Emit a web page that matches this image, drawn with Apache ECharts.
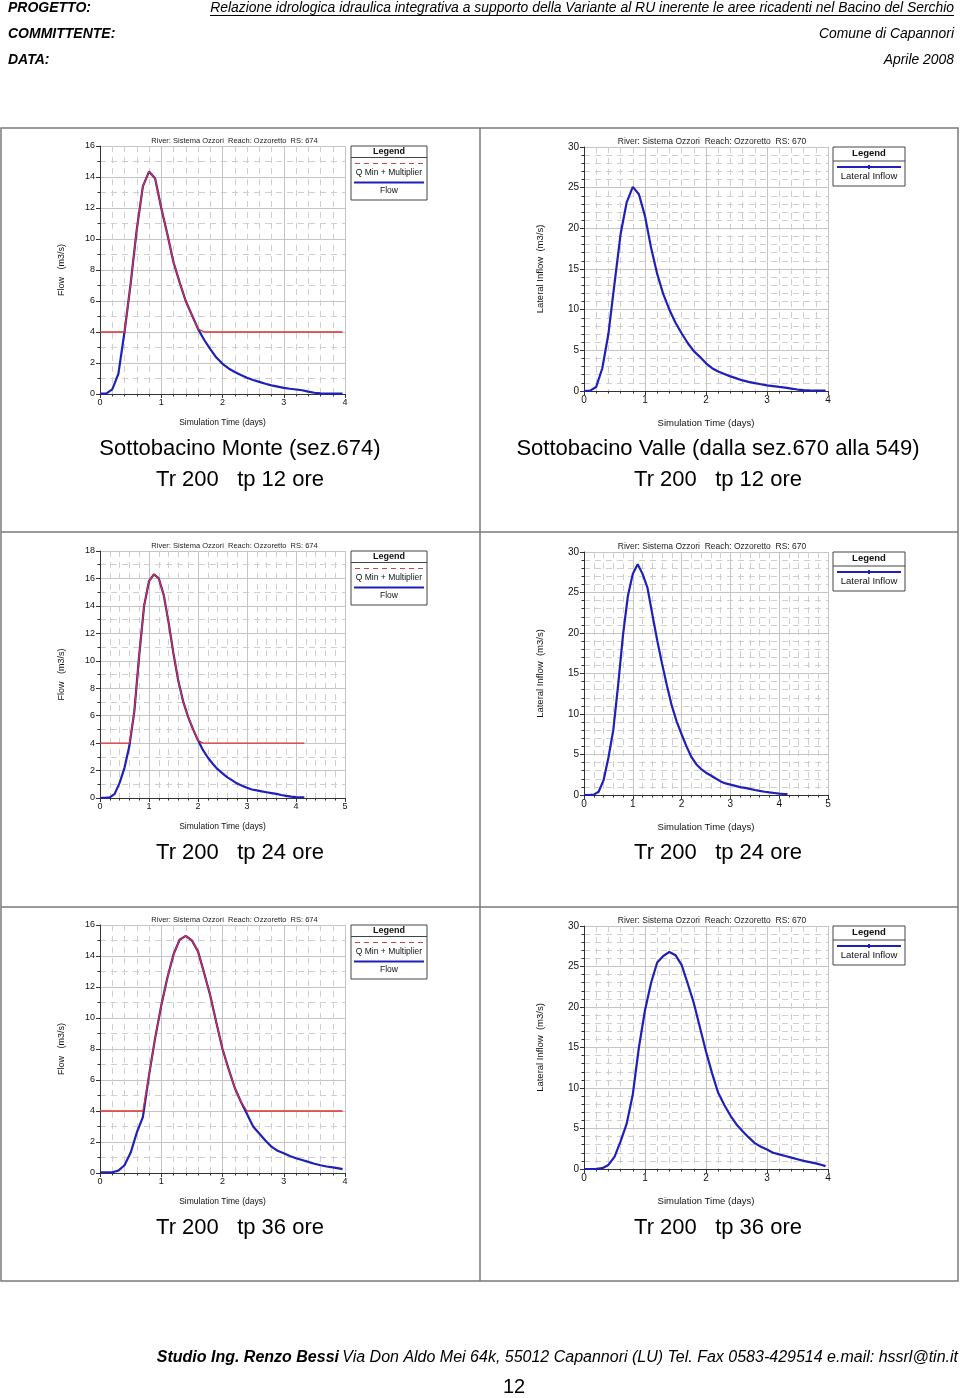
<!DOCTYPE html>
<html><head><meta charset="utf-8">
<script src="https://cdn.jsdelivr.net/npm/echarts@6/dist/echarts.min.js"></script>
<style>html,body{margin:0;padding:0;background:#fff}#c{width:960px;height:1398px}</style>
</head><body><div id="c"></div>
<script>
// ---------- DATA ----------
const timeTp12 = [0,0.1,0.2,0.3,0.4,0.5,0.6,0.7,0.8,0.9,1.0,1.1,1.2,1.3,1.4,1.5,1.6,1.7,1.8,1.9,2.0,2.1,2.2,2.3,2.4,2.5,2.6,2.7,2.8,2.9,3.0,3.1,3.2,3.3,3.4,3.5,3.6,3.7,3.8,3.9,3.96];
const timeTp24 = [0,0.1,0.2,0.3,0.4,0.5,0.6,0.7,0.8,0.9,1.0,1.1,1.2,1.3,1.4,1.5,1.6,1.7,1.8,1.9,2.0,2.1,2.2,2.3,2.4,2.5,2.6,2.7,2.8,2.9,3.0,3.1,3.2,3.3,3.4,3.5,3.6,3.7,3.8,3.9,4.0,4.1,4.17];
const timeTp36 = [0,0.1,0.2,0.3,0.4,0.5,0.6,0.7,0.8,0.9,1.0,1.1,1.2,1.3,1.4,1.5,1.6,1.7,1.8,1.9,2.0,2.1,2.2,2.3,2.4,2.5,2.6,2.7,2.8,2.9,3.0,3.1,3.2,3.3,3.4,3.5,3.6,3.7,3.8,3.9,3.96];

// Sottobacino Monte (RS 674) - Flow
const flowMonteTp12 = [0.02,0.03,0.3,1.3,4.0,7.1,10.6,13.4,14.35,13.9,12.0,10.3,8.5,7.2,6.0,5.1,4.2,3.5,2.9,2.35,1.95,1.65,1.42,1.22,1.05,0.9,0.78,0.66,0.56,0.48,0.4,0.34,0.29,0.24,0.15,0.08,0.04,0.03,0.03,0.02,0.02];
const qminMonteTp12 = [4,4,4,4,4.0,7.1,10.6,13.4,14.35,13.9,12.0,10.3,8.5,7.2,6.0,5.1,4.2,4,4,4,4,4,4,4,4,4,4,4,4,4,4,4,4,4,4,4,4,4,4,4,4];
const flowMonteTp24 = [0.02,0.02,0.05,0.3,1.1,2.2,3.8,6.3,10.4,14.0,15.8,16.3,16.0,14.8,12.8,10.5,8.5,7.0,5.9,5.0,4.2,3.5,2.95,2.5,2.1,1.8,1.5,1.28,1.05,0.9,0.75,0.62,0.55,0.48,0.42,0.36,0.3,0.22,0.15,0.1,0.07,0.05,0.05];
const qminMonteTp24 = [4,4,4,4,4,4,4,6.3,10.4,14.0,15.8,16.3,16.0,14.8,12.8,10.5,8.5,7.0,5.9,5.0,4.2,4,4,4,4,4,4,4,4,4,4,4,4,4,4,4,4,4,4,4,4,4,4];
const flowMonteTp36 = [0.05,0.05,0.05,0.15,0.5,1.3,2.6,3.6,6.3,8.7,10.8,12.6,14.1,15.05,15.3,15.0,14.3,12.9,11.45,9.7,8.0,6.7,5.5,4.6,3.8,3.0,2.55,2.1,1.7,1.43,1.27,1.1,0.95,0.84,0.72,0.6,0.5,0.42,0.36,0.3,0.25];
const qminMonteTp36 = [4,4,4,4,4,4,4,4,6.3,8.7,10.8,12.6,14.1,15.05,15.3,15.0,14.3,12.9,11.45,9.7,8.0,6.7,5.5,4.6,4,4,4,4,4,4,4,4,4,4,4,4,4,4,4,4,4];

// Sottobacino Valle (RS 670) - Lateral Inflow
const inflowValleTp12 = [0,0.05,0.5,2.8,7.0,13.2,19.3,23.2,25.1,24.2,21.5,17.6,14.4,11.9,10.0,8.4,7.1,5.9,4.9,4.2,3.4,2.8,2.4,2.1,1.8,1.55,1.3,1.12,0.97,0.83,0.7,0.6,0.5,0.42,0.3,0.18,0.1,0.07,0.06,0.05,0.05];
const inflowValleTp24 = [0,0,0.05,0.4,1.8,4.6,8.0,13.6,19.8,24.6,27.3,28.5,27.3,25.6,22.3,19.1,16.2,13.5,11.0,9.05,7.5,6.0,4.7,3.8,3.2,2.75,2.4,2.03,1.68,1.43,1.28,1.13,0.98,0.87,0.75,0.62,0.5,0.4,0.32,0.25,0.18,0.12,0.1];
const inflowValleTp36 = [0,0,0.02,0.1,0.5,1.5,3.4,5.6,9.2,15.0,19.6,23.0,25.5,26.3,26.8,26.4,25.2,22.9,20.5,17.5,14.5,11.8,9.4,7.9,6.6,5.5,4.65,3.9,3.2,2.75,2.4,2.0,1.8,1.6,1.4,1.2,1.0,0.85,0.7,0.5,0.35];

const chartTitleMonte = 'River: Sistema Ozzori  Reach: Ozzoretto  RS: 674';
const chartTitleValle = 'River: Sistema Ozzori  Reach: Ozzoretto  RS: 670';
const yNameMonte = 'Flow   (m3/s)';
const yNameValle = 'Lateral Inflow  (m3/s)';
const xName = 'Simulation Time (days)';
const captionMonte = 'Sottobacino Monte (sez.674)';
const captionValle = 'Sottobacino Valle (dalla sez.670 alla 549)';
const captionTp12 = 'Tr 200   tp 12 ore';
const captionTp24 = 'Tr 200   tp 24 ore';
const captionTp36 = 'Tr 200   tp 36 ore';

// ---------- LAYOUT ----------
const BLUE = '#2020b8', RED = '#dd3030';
const FONT = '"Liberation Sans", Arial, Helvetica, sans-serif';

const panels = [
  {type:'monte', grid:{left:100,top:146,width:245,height:248}, xMax:4, yMax:16, yInt:2, yMinor:2, time:timeTp12, main:flowMonteTp12, qmin:qminMonteTp12},
  {type:'valle', grid:{left:584,top:147,width:244,height:244}, xMax:4, yMax:30, yInt:5, yMinor:5, time:timeTp12, main:inflowValleTp12},
  {type:'monte', grid:{left:100,top:551,width:245,height:247}, xMax:5, yMax:18, yInt:2, yMinor:2, time:timeTp24, main:flowMonteTp24, qmin:qminMonteTp24},
  {type:'valle', grid:{left:584,top:552,width:244,height:243}, xMax:5, yMax:30, yInt:5, yMinor:5, time:timeTp24, main:inflowValleTp24},
  {type:'monte', grid:{left:100,top:925,width:245,height:248}, xMax:4, yMax:16, yInt:2, yMinor:2, time:timeTp36, main:flowMonteTp36, qmin:qminMonteTp36},
  {type:'valle', grid:{left:584,top:926,width:244,height:243}, xMax:4, yMax:30, yInt:5, yMinor:5, time:timeTp36, main:inflowValleTp36},
];

const grids = [], xAxes = [], yAxes = [], series = [], graphics = [];
const gridLineColor = '#c4c4c4';

panels.forEach((p, i) => {
  const isM = p.type === 'monte';
  const fs = isM ? 9 : 10;
  grids.push(Object.assign({outerBoundsMode:'none', containLabel:false}, p.grid));
  xAxes.push({
    type:'value', gridIndex:i, min:0, max:p.xMax, interval:1,
    name:xName, nameLocation:'middle', nameGap: isM ? 24 : 27,
    nameTextStyle:{fontSize: isM ? 8.5 : 9.5, color:'#111', fontFamily:FONT},
    axisLine:{show:true, onZero:false, lineStyle:{color:'#333', width:1}},
    axisTick:{show:true, length:4, lineStyle:{color:'#333'}},
    minorTick:{show:true, splitNumber:5, length:2.5, lineStyle:{color:'#333'}},
    axisLabel:{fontSize:fs, color:'#111', margin:4, fontFamily:FONT},
    splitLine:{show:true, lineStyle:{color:gridLineColor, width:1}},
    minorSplitLine:{show:true, lineStyle:{color:'#cfcfcf', width:1, type:[6,5]}}
  });
  yAxes.push({
    type:'value', gridIndex:i, min:0, max:p.yMax, interval:p.yInt,
    name: isM ? yNameMonte : yNameValle, nameLocation:'middle', nameGap: isM ? 34 : 39, nameRotate:90,
    nameTextStyle:{fontSize: isM ? 9 : 9.5, color:'#111', fontFamily:FONT},
    axisLine:{show:true, lineStyle:{color:'#333', width:1}},
    axisTick:{show:true, length:4, lineStyle:{color:'#333'}},
    minorTick:{show:true, splitNumber:p.yMinor, length:2.5, lineStyle:{color:'#333'}},
    axisLabel:{fontSize:fs, color:'#111', margin:5, fontFamily:FONT},
    splitLine:{show:true, lineStyle:{color:gridLineColor, width:1}},
    minorSplitLine:{show:true, lineStyle:{color:'#cfcfcf', width:1, type:[6,5]}}
  });
  series.push({
    type:'line', name: isM ? 'Flow' : 'Lateral Inflow', xAxisIndex:i, yAxisIndex:i,
    data: p.time.map((t, k) => [t, p.main[k]]),
    showSymbol:false, symbol:'none', lineStyle:{color:BLUE, width:2.2}, z:3, animation:false
  });
  if (isM) {
    series.push({
      type:'line', name:'Q Min + Multiplier', xAxisIndex:i, yAxisIndex:i,
      data: p.time.map((t, k) => [t, p.qmin[k]]),
      showSymbol:false, symbol:'none', lineStyle:{color:RED, width:1.3}, z:4, animation:false
    });
  }

  const g = p.grid;
  const cx = g.left + g.width / 2;
  graphics.push({type:'text', x: cx + (isM ? 12 : 6), y: g.top - 5, style:{text: isM ? chartTitleMonte : chartTitleValle, font:(isM ? '7.5px ' : '8.5px ') + FONT, fill:'#222', align:'center', verticalAlign:'middle'}});

  if (isM) {
    const lx = 351, ly = g.top, lw = 76, lh = 54, lc = lx + lw / 2;
    graphics.push(
      {type:'rect', shape:{x:lx, y:ly, width:lw, height:lh}, style:{fill:'#fff', stroke:'#444', lineWidth:1}},
      {type:'text', x:lc, y:ly + 5.5, style:{text:'Legend', font:'bold 9px ' + FONT, fill:'#111', align:'center', verticalAlign:'middle'}},
      {type:'line', shape:{x1:lx, y1:ly + 11.5, x2:lx + lw, y2:ly + 11.5}, style:{stroke:'#444', lineWidth:1}},
      {type:'line', shape:{x1:lx + 4, y1:ly + 17.5, x2:lx + lw - 3, y2:ly + 17.5}, style:{stroke:'#cc4444', lineWidth:1, lineDash:[5,4]}},
      {type:'text', x:lc, y:ly + 27, style:{text:'Q Min + Multiplier', font:'8.5px ' + FONT, fill:'#111', align:'center', verticalAlign:'middle'}},
      {type:'line', shape:{x1:lx + 3, y1:ly + 36.5, x2:lx + lw - 3, y2:ly + 36.5}, style:{stroke:BLUE, lineWidth:1.8}},
      {type:'text', x:lc, y:ly + 45, style:{text:'Flow', font:'8.5px ' + FONT, fill:'#111', align:'center', verticalAlign:'middle'}}
    );
  } else {
    const lx = 833, ly = g.top, lw = 72, lh = 39, lc = lx + lw / 2;
    graphics.push(
      {type:'rect', shape:{x:lx, y:ly, width:lw, height:lh}, style:{fill:'#fff', stroke:'#444', lineWidth:1}},
      {type:'text', x:lc, y:ly + 6.5, style:{text:'Legend', font:'bold 9.5px ' + FONT, fill:'#111', align:'center', verticalAlign:'middle'}},
      {type:'line', shape:{x1:lx, y1:ly + 14, x2:lx + lw, y2:ly + 14}, style:{stroke:'#444', lineWidth:1}},
      {type:'line', shape:{x1:lx + 4, y1:ly + 20, x2:lx + lw - 4, y2:ly + 20}, style:{stroke:BLUE, lineWidth:1.8}},
      {type:'rect', shape:{x:lc - 1, y:ly + 18, width:2, height:4}, style:{fill:BLUE}},
      {type:'text', x:lc, y:ly + 29.5, style:{text:'Lateral Inflow', font:'9.5px ' + FONT, fill:'#111', align:'center', verticalAlign:'middle'}}
    );
  }
});

// page table borders
const BORDER = '#7a7a7a';
graphics.push(
  {type:'rect', shape:{x:1, y:128, width:957, height:1153}, style:{fill:'none', stroke:BORDER, lineWidth:1.5}, z:-1},
  {type:'line', shape:{x1:480, y1:128, x2:480, y2:1281}, style:{stroke:BORDER, lineWidth:1.5}, z:-1},
  {type:'line', shape:{x1:1, y1:532, x2:958, y2:532}, style:{stroke:BORDER, lineWidth:1.5}, z:-1},
  {type:'line', shape:{x1:1, y1:907, x2:958, y2:907}, style:{stroke:BORDER, lineWidth:1.5}, z:-1}
);

// captions
const capFont = '22px ' + FONT;
const capTexts = [
  [240, 449, captionMonte], [718, 449, captionValle],
  [240, 480, captionTp12], [718, 480, captionTp12],
  [240, 853, captionTp24], [718, 853, captionTp24],
  [240, 1228, captionTp36], [718, 1228, captionTp36]
];
capTexts.forEach(c => graphics.push({type:'text', x:c[0], y:c[1], style:{text:c[2], font:capFont, fill:'#000', align:'center', verticalAlign:'middle'}}));

// header
const hb = 'italic bold 14px ' + FONT;
const hn = 'italic 15px ' + FONT;
const narrowScale = 0.926;
graphics.push(
  {type:'text', x:8, y:8, style:{text:'PROGETTO:', font:hb, fill:'#000', verticalAlign:'middle'}},
  {type:'text', x:8, y:34, style:{text:'COMMITTENTE:', font:hb, fill:'#000', verticalAlign:'middle'}},
  {type:'text', x:8, y:60, style:{text:'DATA:', font:hb, fill:'#000', verticalAlign:'middle'}},
  {type:'text', x:954, y:8, scaleX:narrowScale, style:{text:'Relazione idrologica idraulica integrativa a supporto della Variante al RU inerente le aree ricadenti nel Bacino del Serchio', font:hn, fill:'#000', align:'right', verticalAlign:'middle'}},
  {type:'line', shape:{x1:210, y1:15.5, x2:954, y2:15.5}, style:{stroke:'#000', lineWidth:1}},
  {type:'text', x:954, y:34, scaleX:narrowScale, style:{text:'Comune di Capannori', font:hn, fill:'#000', align:'right', verticalAlign:'middle'}},
  {type:'text', x:954, y:60, scaleX:narrowScale, style:{text:'Aprile 2008', font:hn, fill:'#000', align:'right', verticalAlign:'middle'}}
);

// footer
graphics.push(
  {type:'text', x:958, y:1358, style:{text:'{b|Studio Ing. Renzo Bessi} {n|Via Don Aldo Mei 64k, 55012 Capannori (LU) Tel. Fax 0583-429514 e.mail: hssrl@tin.it}', align:'right', verticalAlign:'middle',
    rich:{b:{font:'italic bold 16px ' + FONT, fill:'#000'}, n:{font:'italic 16px ' + FONT, fill:'#000'}}}},
  {type:'text', x:514, y:1387, style:{text:'12', font:'20px ' + FONT, fill:'#000', align:'center', verticalAlign:'middle'}}
);

const chart = echarts.init(document.getElementById('c'), null, {renderer:'canvas', width:960, height:1398});
chart.setOption({
  animation:false,
  backgroundColor:'#fff',
  grid: grids, xAxis: xAxes, yAxis: yAxes, series: series,
  graphic: graphics
});
</script>
</body></html>
